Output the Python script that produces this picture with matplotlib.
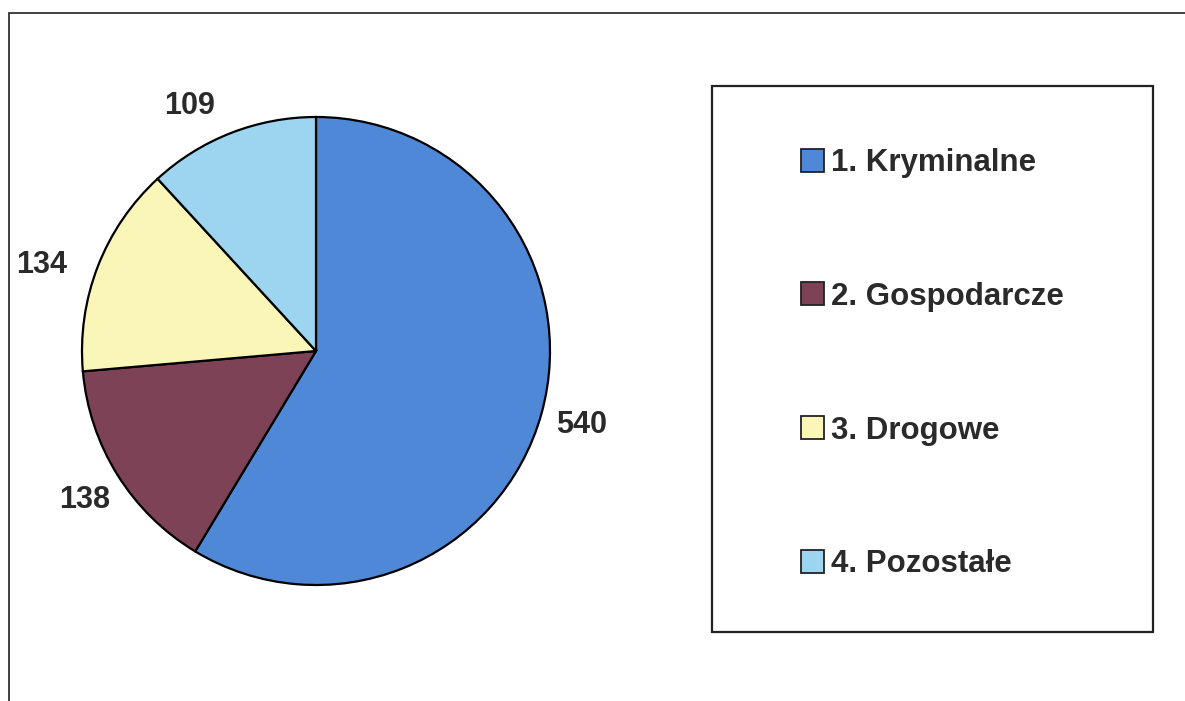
import matplotlib
matplotlib.use("Agg")
import matplotlib.pyplot as plt
from matplotlib.patches import Rectangle, Patch
import numpy as np

categories = ["1. Kryminalne", "2. Gospodarcze", "3. Drogowe", "4. Pozostałe"]
values = [540, 138, 134, 109]
colors = ["#5088D8", "#7D4256", "#FAF6B8", "#9DD5F0"]

W, H = 1185, 701
fig = plt.figure(figsize=(W / 100, H / 100), dpi=100)
fig.patch.set_facecolor("white")

# outer frame (only left and top visible in the reference)
fig.add_artist(Rectangle((9 / W, -0.2), 2.0, (1 - 13 / H) + 0.2, transform=fig.transFigure,
                         fill=False, edgecolor="#333333", linewidth=1.3))

cx, cy, r = 316, 351, 234
ax = fig.add_axes([(cx - r) / W, (H - cy - r) / H, 2 * r / W, 2 * r / H])
wedges, texts = ax.pie(values, colors=colors, startangle=90, counterclock=False,
                       radius=1.0, labels=[str(v) for v in values], labeldistance=1.18,
                       wedgeprops=dict(edgecolor="black", linewidth=1.6),
                       textprops=dict(fontsize=22, fontweight="bold", color="#2a2a2a",
                                      family="Liberation Sans"))
# small label nudges (pixels) to mimic the reference's label placement
nudges_px = [(0, 0), (3, -3), (-17, -14), (-26, -12)]
for t, (dx, dy) in zip(texts, nudges_px):
    t.set_horizontalalignment("center")
    t.set_verticalalignment("center")
    x, y = t.get_position()
    t.set_position((x + dx / r, y + dy / r))
    t.set_clip_on(False)
ax.set_xlim(-1.0, 1.0)
ax.set_ylim(-1.0, 1.0)
ax.set_aspect("auto")
ax.axis("off")

# legend box
fig.add_artist(Rectangle((712 / W, 1 - 632 / H), (1153 - 712) / W, (632 - 86) / H,
                         transform=fig.transFigure, fill=False, edgecolor="#222222",
                         linewidth=1.6))
handles = [Patch(facecolor=c, edgecolor="#222222", linewidth=1.3) for c in colors]
leg = fig.legend(handles, categories, loc="upper left",
                 bbox_to_anchor=(801 / W, 1 - 148 / H), frameon=False,
                 prop=dict(family="Liberation Sans", weight="bold", size=22.5),
                 handlelength=0.75, handleheight=0.75, handletextpad=0.2,
                 labelspacing=3.32, borderpad=0, borderaxespad=0)
for t in leg.get_texts():
    t.set_color("#2a2a2a")

fig.savefig("out.png", dpi=100, facecolor="white")
